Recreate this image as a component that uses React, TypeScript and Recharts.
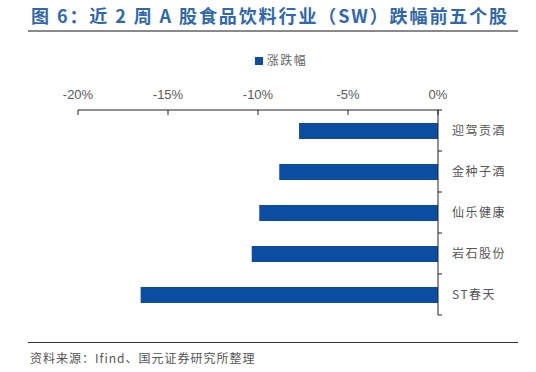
import React from 'react';
import { BarChart, Bar, XAxis, YAxis, Legend } from 'recharts';

const stocks = ['迎驾贡酒', '金种子酒', '仙乐健康', '岩石股份', 'ST春天'];
const changes = [-7.72, -8.82, -9.93, -10.35, -16.52];
const xTicks = [-20, -15, -10, -5, 0];

const data = stocks.map((name, i) => ({ name, value: changes[i] }));

const BLUE = '#0B4EA1';
const BAND = 41;

const XTick = (props: any) => {
  const { x, y, payload } = props;
  return (
    <g>
      <text
        x={x}
        y={y}
        textAnchor="middle"
        fill="#595959"
        fontSize={13}
        fontFamily="Liberation Sans, Arial, sans-serif"
      >
        {`${payload.value}%`}
      </text>
      <line x1={x} x2={x} y1={y + 11} y2={y + 16} stroke="#222" strokeWidth={1} />
    </g>
  );
};

const YTick = (props: any) => {
  const { x, y, payload, index } = props;
  const axisX = x - 14;
  return (
    <g>
      <text
        x={x}
        y={y + 4}
        textAnchor="start"
        fill="#555"
        fontSize={12}
        letterSpacing={1.5}
        fontFamily="Noto Sans CJK SC, sans-serif"
      >
        {payload.value}
      </text>
      <line x1={axisX} x2={axisX + 4} y1={y - BAND / 2} y2={y - BAND / 2} stroke="#222" />
      {index === stocks.length - 1 && (
        <line x1={axisX} x2={axisX + 4} y1={y + BAND / 2} y2={y + BAND / 2} stroke="#222" />
      )}
    </g>
  );
};

const App = () => {
  return (
    <div
      style={{
        position: 'absolute',
        left: 0,
        top: 0,
        width: 536,
        height: 372,
        background: '#fff',
        fontFamily: 'Noto Sans CJK SC, sans-serif',
      }}
    >
      <div
        style={{
          position: 'absolute',
          left: 31,
          top: 3,
          fontSize: 18,
          fontWeight: 'bold',
          color: '#2F68AD',
          letterSpacing: 1.9,
          whiteSpace: 'nowrap',
          lineHeight: '24px',
        }}
      >
        图 6：近 2 周 A 股食品饮料行业（SW）跌幅前五个股
      </div>
      <div style={{ position: 'absolute', left: 28, top: 30, width: 490, height: 2, background: '#8a8a8a' }} />

      <BarChart
        width={536}
        height={372}
        layout="vertical"
        data={data}
        margin={{ top: 80, right: 0, bottom: 57, left: 78 }}
        barCategoryGap={12}
      >
        <XAxis
          type="number"
          orientation="top"
          domain={[-20, 0]}
          ticks={xTicks}
          height={30}
          tickSize={0}
          tickMargin={11}
          tickLine={false}
          axisLine={{ stroke: '#222' }}
          tick={<XTick />}
          interval={0}
        />
        <YAxis
          type="category"
          dataKey="name"
          orientation="right"
          width={98}
          tickSize={0}
          tickMargin={14}
          tickLine={false}
          axisLine={{ stroke: '#222' }}
          tick={<YTick />}
          interval={0}
        />
        <Legend
          verticalAlign="middle"
          align="center"
          iconType="square"
          iconSize={8}
          wrapperStyle={{ top: 50, left: 36, width: 500, lineHeight: '16px' }}
          formatter={(v: string) => (
            <span style={{ color: '#666', fontSize: 12, letterSpacing: 1.5 }}>{v}</span>
          )}
        />
        <Bar dataKey="value" name="涨跌幅" fill={BLUE} barSize={16} isAnimationActive={false} />
      </BarChart>

      <div style={{ position: 'absolute', left: 28, top: 342, width: 490, height: 1, background: '#333' }} />
      <div
        style={{
          position: 'absolute',
          left: 30,
          top: 349,
          fontSize: 12,
          color: '#555',
          letterSpacing: 1,
          whiteSpace: 'nowrap',
        }}
      >
        资料来源：Ifind、国元证券研究所整理
      </div>
    </div>
  );
};

export default App;
